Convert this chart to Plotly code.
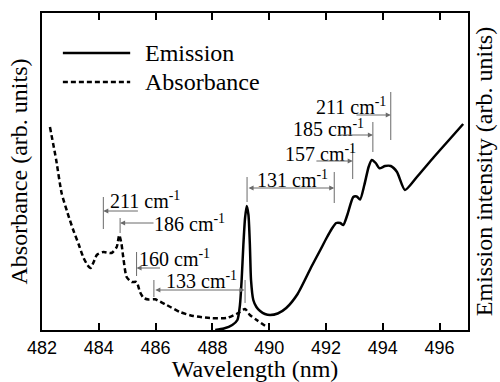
import plotly.graph_objects as go

# ---- data (y in arbitrary units, axis range 0..317) ----
em_wl = [488.1, 488.4, 488.7, 488.88, 488.97, 489.03, 489.09, 489.15, 489.21, 489.27,
         489.32, 489.36, 489.44, 489.55, 489.68, 489.85, 490.03, 490.3, 490.6, 491.0,
         491.5, 491.8, 492.02, 492.2, 492.36, 492.5, 492.61, 492.75, 492.96, 493.08,
         493.2, 493.35, 493.5, 493.61, 493.75, 493.88, 494.08, 494.28, 494.5, 494.78,
         495.2, 495.8, 496.3, 496.83]
em_int = [0, 1.5, 5, 10, 25, 50, 85, 112, 124, 115,
          85, 50, 30, 23, 19, 16, 15, 16.5, 22, 36,
          64, 80, 92, 101, 107, 107, 105, 115, 133, 133.5,
          130.5, 145, 163, 170, 167, 161.7, 164, 164, 158, 140,
          153, 173, 189, 206]

ab_wl = [482.28, 482.5, 482.69, 482.9, 483.1, 483.3, 483.45, 483.6, 483.71, 483.82,
         483.93, 484.16, 484.45, 484.63, 484.72, 484.8, 484.86, 484.98, 485.16, 485.33,
         485.45, 485.58, 485.75, 485.98, 486.39, 486.86, 487.33, 487.92, 488.5, 488.91,
         489.15, 489.32, 489.56, 489.92]
ab_val = [203, 170, 137, 117, 100, 85, 73, 65, 62, 68,
          75, 78, 77, 83, 95, 86, 73, 53, 48, 48,
          38, 32, 30.5, 30.7, 25, 18, 14, 12, 12, 17,
          21, 15, 10, 3]

x_ticks = [482, 484, 486, 488, 490, 492, 494, 496]

# vibronic shift labels: text, text x, text y, arrow y, arrow tail x, arrow head x, double-headed
shift_text = ["211", "186", "160", "133", "131", "157", "185", "211"]
shift_tx = [485.64, 487.21, 486.68, 487.62, 490.82, 491.79, 492.10, 492.87]
shift_ty = [130, 107, 72, 50, 151, 177, 202, 224]
arrow_y = [119, 107, 62, 40, 142, 169, 195, 215]
arrow_tail = [485.43, 485.98, 486.21, 485.94, 489.22, 491.61, 492.39, 493.02]
arrow_head = [484.16, 484.75, 485.33, 489.13, 492.29, 492.94, 493.65, 494.28]
arrow_double = [False, False, False, True, True, False, False, False]

# marker bars: x, y bottom, y top
bar_x = [484.16, 484.75, 485.33, 485.94, 489.15, 489.22, 492.29, 492.94, 493.65, 494.28]
bar_y0 = [101, 97, 54, 33, 27, 128, 127, 151, 178, 190]
bar_y1 = [133, 112, 78, 50, 50, 153, 158, 186, 208, 238]

SERIF = "Times New Roman"
SANS = "Arial"
GRAY = "#6a6a6a"
DASH = "5px,3px"

fig = go.Figure()
fig.add_trace(go.Scatter(x=ab_wl, y=ab_val, mode="lines", name="Absorbance",
                         line=dict(color="black", width=2.5, dash=DASH, shape="spline", smoothing=0.6),
                         yaxis="y"))
fig.add_trace(go.Scatter(x=em_wl, y=em_int, mode="lines", name="Emission",
                         line=dict(color="black", width=2.5, shape="spline", smoothing=0.6),
                         yaxis="y2"))

shapes = []
for bx, b0, b1 in zip(bar_x, bar_y0, bar_y1):
    shapes.append(dict(type="line", xref="x", yref="y", x0=bx, x1=bx, y0=b0, y1=b1,
                       line=dict(color=GRAY, width=1)))
# manual legend samples
shapes.append(dict(type="line", xref="paper", yref="paper", x0=0.049, x1=0.207, y0=0.874, y1=0.874,
                   line=dict(color="black", width=2.5)))
shapes.append(dict(type="line", xref="paper", yref="paper", x0=0.049, x1=0.207, y0=0.782, y1=0.782,
                   line=dict(color="black", width=2.5, dash=DASH)))

annotations = []
for t, tx, ty in zip(shift_text, shift_tx, shift_ty):
    annotations.append(dict(x=tx, y=ty, xref="x", yref="y", text=t + " cm<sup>-1</sup>",
                            showarrow=False, font=dict(family=SERIF, size=20, color="black"),
                            xanchor="center", yanchor="middle"))
for ay, tail, head, dbl in zip(arrow_y, arrow_tail, arrow_head, arrow_double):
    a = dict(x=head, y=ay, ax=tail, ay=ay, xref="x", yref="y", axref="x", ayref="y",
             text="", showarrow=True, arrowhead=2, arrowsize=1, arrowwidth=1,
             arrowcolor=GRAY, standoff=0, startstandoff=0)
    if dbl:
        a.update(arrowside="end+start", startarrowhead=2, startarrowsize=1)
    annotations.append(a)
annotations.append(dict(x=0.237, y=0.874, xref="paper", yref="paper", text="Emission",
                        showarrow=False, xanchor="left", yanchor="middle",
                        font=dict(family=SERIF, size=24, color="black")))
annotations.append(dict(x=0.237, y=0.782, xref="paper", yref="paper", text="Absorbance",
                        showarrow=False, xanchor="left", yanchor="middle",
                        font=dict(family=SERIF, size=24, color="black")))

fig.update_layout(
    width=500, height=382,
    margin=dict(l=42, r=32, t=13, b=52),
    paper_bgcolor="white", plot_bgcolor="white",
    font=dict(family=SERIF, color="black"),
    showlegend=False,
    shapes=shapes, annotations=annotations,
    xaxis=dict(range=[482, 497], tickvals=x_ticks, ticks="inside", ticklen=7, tickwidth=1.5,
               tickcolor="black", showline=True, linewidth=2, linecolor="black", mirror="ticks",
               showgrid=False, zeroline=False, automargin=False,
               tickfont=dict(family=SANS, size=18, color="black"),
               title=dict(text="Wavelength (nm)", font=dict(family=SERIF, size=24, color="black"),
                          standoff=6)),
    yaxis=dict(range=[0, 317], showticklabels=False, ticks="", showline=True, linewidth=2,
               linecolor="black", mirror=True, showgrid=False, zeroline=False, automargin=False,
               title=dict(text="Absorbance (arb. units)", font=dict(family=SERIF, size=24, color="black"),
                          standoff=6)),
    yaxis2=dict(range=[0, 317], overlaying="y", side="right", showticklabels=False, ticks="",
                showline=False, showgrid=False, zeroline=False, automargin=False,
                title=dict(text="Emission intensity (arb. units)",
                           font=dict(family=SERIF, size=24, color="black"), standoff=7)),
)

fig.write_html("out.html")
